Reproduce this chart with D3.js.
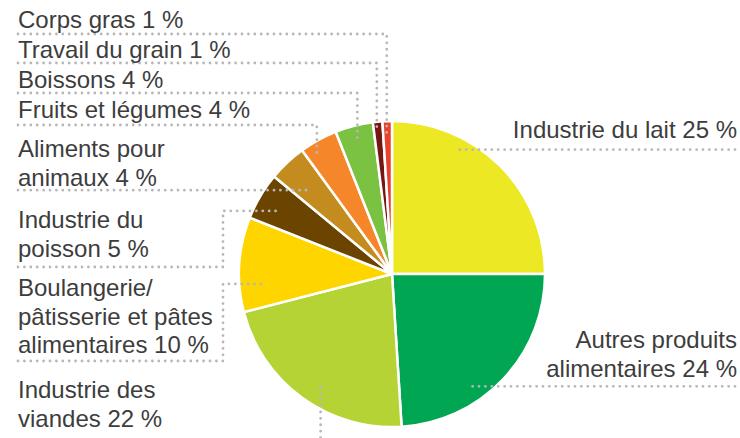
<!DOCTYPE html>
<html>
<head>
<meta charset="utf-8">
<script src="https://cdn.jsdelivr.net/npm/d3@7"></script>
<style>
  body { margin: 0; background: #fff; }
  text { font-family: "Liberation Sans", Arial, sans-serif; font-size: 24px; fill: #3d3d3d; }
</style>
</head>
<body>
<svg id="chart" width="740" height="438"></svg>
<script>
// shares of the food industry, clockwise from 12 o'clock
const categories = ["Industrie du lait", "Autres produits alimentaires", "Industrie des viandes",
    "Boulangerie/pâtisserie et pâtes alimentaires", "Industrie du poisson", "Aliments pour animaux",
    "Fruits et légumes", "Boissons", "Travail du grain", "Corps gras"];
const shares = [25, 24, 22, 10, 5, 4, 4, 4, 1, 1];
const labelLines = [["Industrie du lait"], ["Autres produits", "alimentaires"], ["Industrie des", "viandes"],
    ["Boulangerie/", "pâtisserie et pâtes", "alimentaires"], ["Industrie du", "poisson"],
    ["Aliments pour", "animaux"], ["Fruits et légumes"], ["Boissons"], ["Travail du grain"], ["Corps gras"]];
const colors = ["#ece823", "#00a651", "#b6d335", "#ffd500", "#6b4500", "#c48c1f",
    "#f5862a", "#7cc242", "#771414", "#e8422c"];

// label placement + leader routing (t = position inside slice, k = radius fraction)
const layout = [
    { x: 737, y: 138, anchor: "end", type: "h", x0: 735, t: 0.31, k: 0.92 },
    { x: 737, y: 348, anchor: "end", type: "h", x0: 735, t: 0.654, k: 0.88 },
    { x: 18, y: 398, anchor: "start", type: "v", y0: 445, t: 0.455, k: 0.87 },
    { x: 18, y: 296, anchor: "start", type: "hvh", ly: 361, knee: 223, t: 0.275, k: 0.83 },
    { x: 18, y: 228, anchor: "start", type: "hvh", ly: 267, knee: 223, t: 0.39, k: 0.86 },
    { x: 18, y: 157, anchor: "start", type: "h", x0: 18, t: 0.35, k: 0.78 },
    { x: 18, y: 118, anchor: "start", type: "hv", ly: 125, t: 0.26, k: 0.92 },
    { x: 18, y: 88, anchor: "start", type: "hv", ly: 93, t: 0.5, k: 0.91 },
    { x: 18, y: 58, anchor: "start", type: "hv", ly: 63, t: 0.3, k: 0.93 },
    { x: 18, y: 28, anchor: "start", type: "hv", ly: 34, t: 0.4, k: 0.91 }
];

const cx = 392, cy = 274, radius = 153, lineGap = 28.5;
const svg = d3.select("#chart");
const g = svg.append("g").attr("transform", `translate(${cx},${cy})`);

const pie = d3.pie().sort(null).value(d => d)(shares);
const arc = d3.arc().innerRadius(0).outerRadius(radius);

g.selectAll(".slice")
    .data(pie)
    .enter()
    .append("path")
    .attr("d", arc)
    .attr("fill", (d, i) => colors[i])
    .attr("stroke", "#fff")
    .attr("stroke-width", 2.5)
    .attr("stroke-linejoin", "round");

// point inside a slice, in page coords
function anchorPoint(d, i) {
    const a = d.startAngle + layout[i].t * (d.endAngle - d.startAngle);
    const r = radius * layout[i].k;
    return [cx + r * Math.sin(a), cy - r * Math.cos(a)];
}

function leaderPath(d, i) {
    const L = layout[i];
    const [ex, ey] = anchorPoint(d, i);
    const p = d3.path();
    if (L.type === "h") {
        p.moveTo(L.x0, ey); p.lineTo(ex, ey);
    } else if (L.type === "hv") {
        p.moveTo(18, L.ly); p.lineTo(ex, L.ly); p.lineTo(ex, ey);
    } else if (L.type === "hvh") {
        p.moveTo(18, L.ly); p.lineTo(L.knee, L.ly); p.lineTo(L.knee, ey); p.lineTo(ex, ey);
    } else {
        p.moveTo(ex, ey); p.lineTo(ex, L.y0);
    }
    return p.toString();
}

svg.selectAll(".leader")
    .data(pie)
    .enter()
    .append("path")
    .attr("d", leaderPath)
    .attr("fill", "none")
    .attr("stroke", "#b7b7b9")
    .attr("stroke-width", 2.8)
    .attr("stroke-linecap", "round")
    .attr("stroke-dasharray", "0 6.4");

const labels = svg.selectAll(".label")
    .data(pie)
    .enter()
    .append("text")
    .attr("text-anchor", (d, i) => layout[i].anchor);

labels.each(function (d, i) {
    const lines = labelLines[i].slice();
    lines[lines.length - 1] += " " + shares[i] + " %";
    d3.select(this).selectAll("tspan")
        .data(lines)
        .enter()
        .append("tspan")
        .attr("x", layout[i].x)
        .attr("y", (s, j) => layout[i].y + j * lineGap)
        .text(s => s);
});
</script>
</body>
</html>
